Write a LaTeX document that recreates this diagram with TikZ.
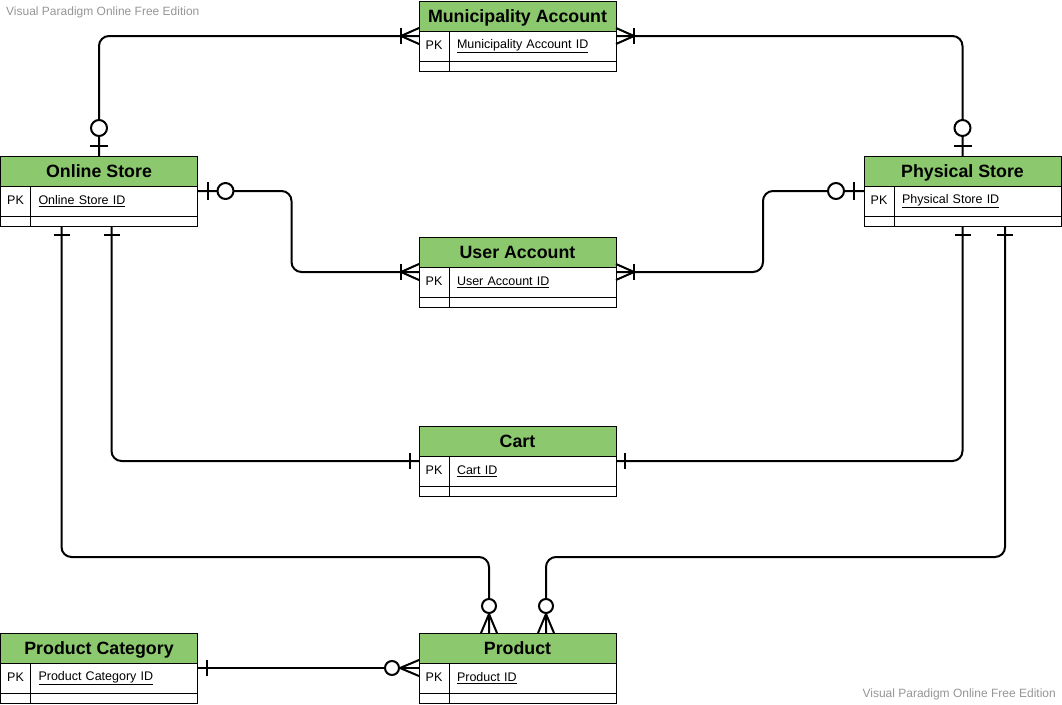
\documentclass[tikz,border=0pt]{standalone}
\usepackage{fontspec}
\setmainfont{Liberation Sans}
\usetikzlibrary{calc}
\definecolor{hdrgreen}{RGB}{140,201,110}
\definecolor{wmgray}{RGB}{150,150,150}
\tikzset{
  tbl/.style={minimum width=197pt, minimum height=70pt, inner sep=0pt, outer sep=0pt, draw=none},
  hdr/.style={draw=black, line width=1pt, fill=hdrgreen, minimum width=197pt, minimum height=30pt, inner sep=0pt,
              outer sep=0pt, text height=15.5pt, text depth=3pt, font=\bfseries\fontsize{17.8}{20}\selectfont},
  pkc/.style={draw=black, line width=1pt, fill=white, minimum width=30pt, minimum height=30pt, inner sep=0pt,
              outer sep=0pt, text height=10pt, text depth=3pt, font=\fontsize{12.5}{14}\selectfont},
  keyc/.style={draw=black, line width=1pt, fill=white, text width=151pt, inner xsep=8pt, inner ysep=0pt,
              outer sep=0pt, minimum height=30pt, align=left, font=\fontsize{12.5}{14}\selectfont},
  emc/.style={draw=black, line width=1pt, fill=white, minimum height=10pt, inner sep=0pt, outer sep=0pt},
  conn/.style={draw=black, line width=2pt, rounded corners=10pt},
  endmk/.style={draw=black, line width=2pt},
  wm/.style={text=wmgray, inner sep=0pt, font=\fontsize{12}{14}\selectfont}
}
\newcommand\ertable[5]{%
  \node[tbl, anchor=north west] (#1) at (#2,#3) {};
  \node[hdr, anchor=north west] (#1-h) at (#1.north west) {#4};
  \node[pkc, anchor=north west] (#1-pk) at (#1-h.south west) {PK};
  \node[keyc, anchor=north west] (#1-k) at (#1-pk.north east) {\underline{#5}};
  \node[emc, anchor=north west, minimum width=30pt] (#1-e1) at (#1-pk.south west) {};
  \node[emc, anchor=north west, minimum width=167pt] (#1-e2) at (#1-k.south west) {};
}
% end markers: #1 point on entity border, #2 outward direction (canvas angle)
\newcommand\mkOne[2]{\begin{scope}[shift={(#1)},rotate=#2]
  \draw[endmk] (9pt,-8pt)--(9pt,8pt);\end{scope}}
\newcommand\mkZeroOne[2]{\begin{scope}[shift={(#1)},rotate=#2]
  \draw[endmk] (10pt,-9pt)--(10pt,9pt);
  \draw[endmk, fill=white] (28pt,0pt) circle[radius=8pt];\end{scope}}
\newcommand\mkOneMany[2]{\begin{scope}[shift={(#1)},rotate=#2]
  \draw[endmk] (18pt,-8pt)--(18pt,8pt);
  \draw[endmk] (0pt,8pt)--(18pt,0pt)--(0pt,-8pt);\end{scope}}
\newcommand\mkZeroMany[2]{\begin{scope}[shift={(#1)},rotate=#2]
  \draw[endmk] (0pt,8pt)--(19pt,0pt)--(0pt,-8pt);
  \draw[endmk, fill=white] (27pt,0pt) circle[radius=7pt];\end{scope}}
\begin{document}
\begin{tikzpicture}[x=1pt,y=-1pt]
\fill[white] (0,0) rectangle (1062,704);
\useasboundingbox (0,0) rectangle (1062,704);
% watermarks
\node[wm, anchor=west] (wm1) at (6,12) {Visual Paradigm Online Free Edition};
\node[wm, anchor=east] (wm2) at (1056,694) {Visual Paradigm Online Free Edition};
% tables
\ertable{muni}{419}{1}{Municipality Account}{Municipality Account ID}
\ertable{online}{0.5}{156}{Online Store}{Online Store ID}
\ertable{phys}{864}{156}{Physical Store}{Physical Store ID}
\ertable{user}{419}{237}{User Account}{User Account ID}
\ertable{cart}{419}{426}{Cart}{Cart ID}
\ertable{product}{419}{633}{Product}{Product ID}
\ertable{category}{0.5}{633}{Product Category}{Product Category ID}
% anchor points
\coordinate (onB1) at ($(online.south west)+(61,0)$);
\coordinate (onB2) at ($(online.south west)+(111,0)$);
\coordinate (phB2) at ($(phys.south west)+(141,0)$);
\coordinate (prT1) at ($(product.north)+(-28.5,0)$);
\coordinate (prT2) at ($(product.north)+(28.5,0)$);
% connectors
\draw[conn] (online.north) |- (muni.west);
\draw[conn] (phys.north) |- (muni.east);
\draw[conn] (online.east) -- ++(94,0) |- (user.west);
\draw[conn] (phys.west) -- ++(-101,0) |- (user.east);
\draw[conn] (onB2) |- (cart.west);
\draw[conn] (phys.south) |- (cart.east);
\draw[conn] (onB1) -- ++(0,331) -| (prT1);
\draw[conn] (phB2) -- ++(0,331) -| (prT2);
\draw[conn] (category.east) -- (product.west);
% markers
\mkZeroOne{online.north}{90}
\mkOneMany{muni.west}{180}
\mkZeroOne{phys.north}{90}
\mkOneMany{muni.east}{0}
\mkZeroOne{online.east}{0}
\mkOneMany{user.west}{180}
\mkZeroOne{phys.west}{180}
\mkOneMany{user.east}{0}
\mkOne{onB2}{270}
\mkOne{cart.west}{180}
\mkOne{phys.south}{270}
\mkOne{cart.east}{0}
\mkOne{onB1}{270}
\mkZeroMany{prT1}{90}
\mkOne{phB2}{270}
\mkZeroMany{prT2}{90}
\mkOne{category.east}{0}
\mkZeroMany{product.west}{180}
\end{tikzpicture}
\end{document}
